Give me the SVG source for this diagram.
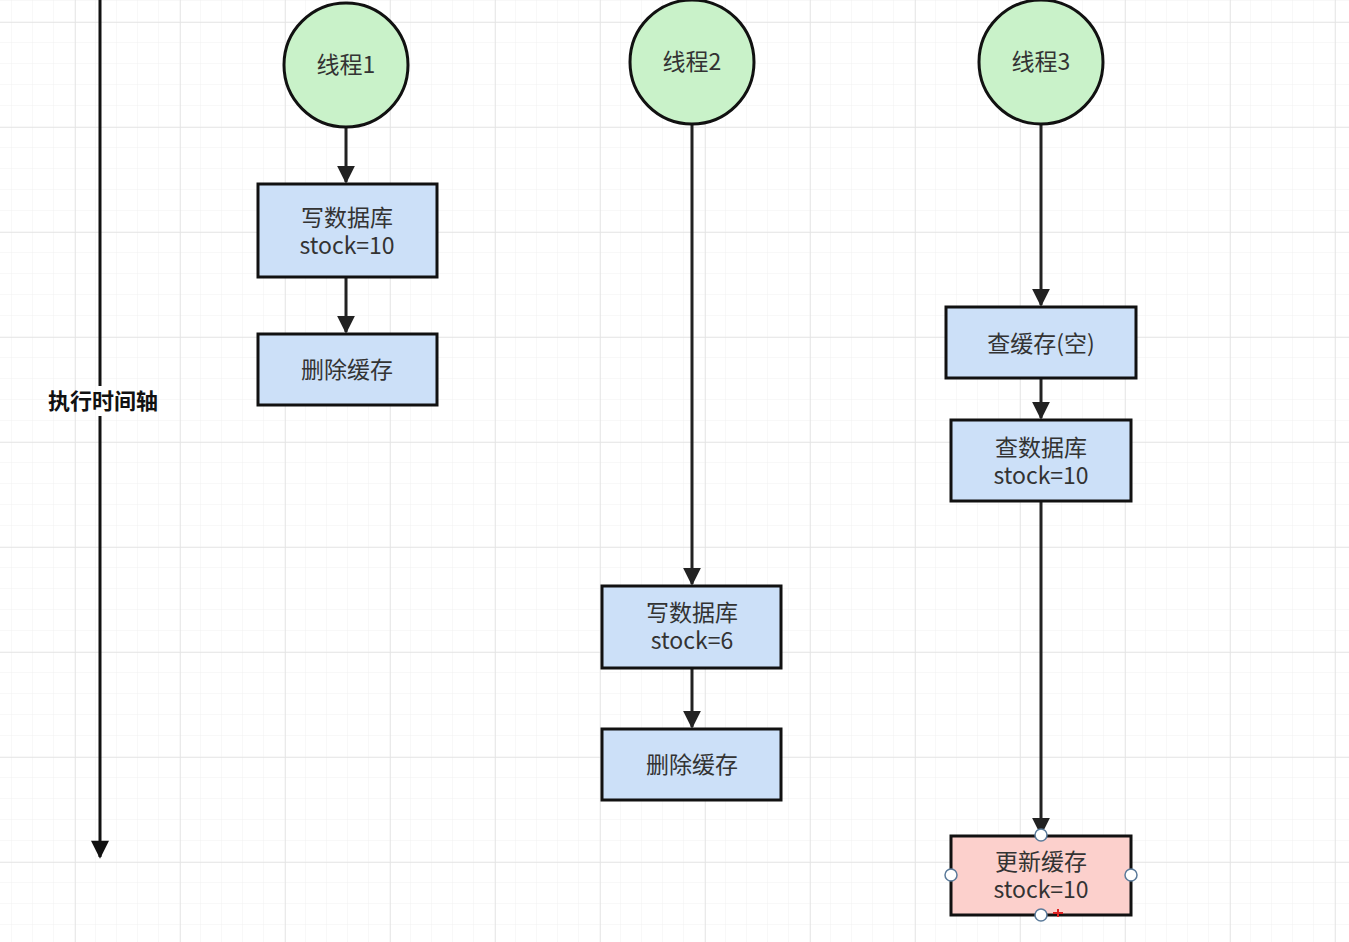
<svg xmlns="http://www.w3.org/2000/svg" width="1349" height="942" viewBox="0 0 1349 942">
<defs>
<pattern id="minor" width="21" height="21" patternUnits="userSpaceOnUse" x="12" y="1">
<path d="M21 0V21M0 21H21" fill="none" stroke="#f1f1f1" stroke-width="1"/>
</pattern>
<pattern id="major" width="105" height="105" patternUnits="userSpaceOnUse" x="75" y="22">
<path d="M0 0V105M0 0H105" fill="none" stroke="#e4e4e4" stroke-width="1.5"/>
</pattern>
<marker id="arr" viewBox="0 0 10 10" refX="9" refY="5" markerWidth="6" markerHeight="6" orient="auto" markerUnits="strokeWidth">
<path d="M0 0L10 5L0 10Z" fill="#222"/>
</marker>
<marker id="arr2" viewBox="0 0 10 10" refX="9" refY="5" markerWidth="7.5" markerHeight="6" orient="auto" markerUnits="strokeWidth">
<path d="M0 0L10 5L0 10Z" fill="#111"/>
</marker>
</defs>
<style>
.c{fill:#c9f2c9;stroke:#111;stroke-width:3}
.b{fill:#cce0f8;stroke:#111;stroke-width:3}
.p{fill:#fcd0cc;stroke:#111;stroke-width:3}
.t{font-family:"Noto Sans CJK SC","Microsoft YaHei",sans-serif;font-size:23px;fill:#333;text-anchor:middle}
.e{stroke:#222;stroke-width:3;fill:none;marker-end:url(#arr)}
.h{fill:#fff;stroke:#5a7a9a;stroke-width:1.5}
</style>
<rect width="1349" height="942" fill="#fff"/>
<rect width="1349" height="942" fill="url(#minor)"/>
<rect width="1349" height="942" fill="url(#major)"/>

<g id="axis">
<line x1="100" y1="0" x2="100" y2="386" stroke="#111" stroke-width="3"/>
<line x1="100" y1="416" x2="100" y2="857" stroke="#111" stroke-width="3" marker-end="url(#arr2)"/>
<text x="103" y="409" class="t" style="font-weight:bold;fill:#111;font-size:22px">执行时间轴</text>
</g>

<g id="connectors">
<line x1="346" y1="128" x2="346" y2="182" class="e"/>
<line x1="346" y1="278" x2="346" y2="332" class="e"/>
<line x1="692" y1="125" x2="692" y2="584" class="e"/>
<line x1="692" y1="669" x2="692" y2="727" class="e"/>
<line x1="1041" y1="125" x2="1041" y2="305" class="e"/>
<line x1="1041" y1="379" x2="1041" y2="418" class="e"/>
<line x1="1041" y1="502" x2="1041" y2="834" class="e"/>
</g>

<g id="t1"><circle cx="346" cy="65" r="62" class="c"/><text x="346" y="73" class="t">线程1</text></g>
<g id="t2"><circle cx="692" cy="62" r="62" class="c"/><text x="692" y="70" class="t">线程2</text></g>
<g id="t3"><circle cx="1041" cy="62" r="62" class="c"/><text x="1041" y="70" class="t">线程3</text></g>

<g id="n1"><rect x="258" y="184" width="179" height="93" class="b"/><text x="347" y="226" class="t"><tspan x="347">写数据库</tspan><tspan x="347" dy="28">stock=10</tspan></text></g>
<g id="n2"><rect x="258" y="334" width="179" height="71" class="b"/><text x="347" y="378" class="t">删除缓存</text></g>

<g id="n3"><rect x="602" y="586" width="179" height="82" class="b"/><text x="692" y="621" class="t"><tspan x="692">写数据库</tspan><tspan x="692" dy="28">stock=6</tspan></text></g>
<g id="n4"><rect x="602" y="729" width="179" height="71" class="b"/><text x="692" y="773" class="t">删除缓存</text></g>

<g id="n5"><rect x="946" y="307" width="190" height="71" class="b"/><text x="1041" y="352" class="t">查缓存(空)</text></g>
<g id="n6"><rect x="951" y="420" width="180" height="81" class="b"/><text x="1041" y="456" class="t"><tspan x="1041">查数据库</tspan><tspan x="1041" dy="28">stock=10</tspan></text></g>
<g id="n7"><rect x="951" y="836" width="180" height="79" class="p"/><text x="1041" y="870" class="t"><tspan x="1041">更新缓存</tspan><tspan x="1041" dy="28">stock=10</tspan></text>
<circle cx="1041" cy="835" r="6" class="h"/><circle cx="951" cy="875" r="6" class="h"/><circle cx="1131" cy="875" r="6" class="h"/><circle cx="1041" cy="915" r="6" class="h"/>
<path d="M1053 913H1063M1058 909V917" stroke="#d22" stroke-width="2"/></g>
</svg>
